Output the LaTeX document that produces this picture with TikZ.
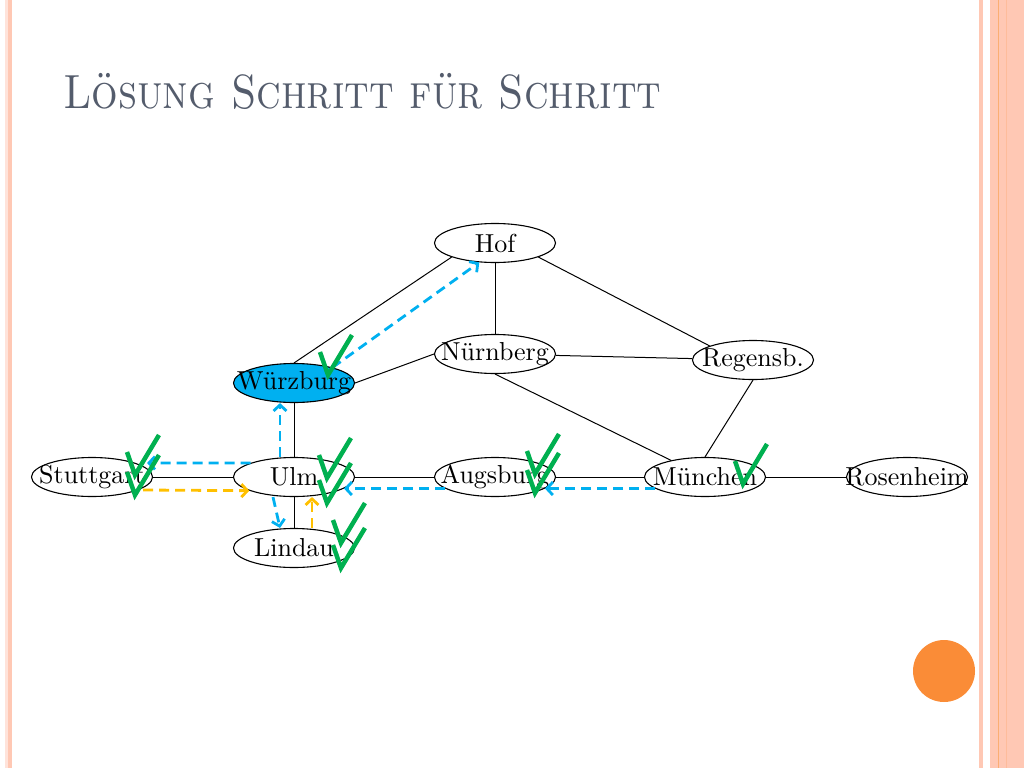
\documentclass[tikz,border=0pt]{standalone}
\usepackage{fontspec}
\usepackage{tikz}
\usetikzlibrary{shapes.geometric,arrows.meta}
\newfontfamily\zehn{lmroman10-regular.otf}
\definecolor{hellblau}{RGB}{0,176,240}
\definecolor{gold}{RGB}{255,192,0}
\definecolor{gruen}{RGB}{0,176,80}
\definecolor{lachs}{RGB}{255,200,180}
\definecolor{titel}{RGB}{84,92,108}
\definecolor{punkt}{RGB}{250,140,55}

\begin{document}
\begin{tikzpicture}[x=1pt,y=-1pt,
	town/.style={draw,ellipse,line width=1.1pt,minimum width=121pt,minimum height=39pt,inner xsep=-19pt,inner ysep=0pt,font=\zehn\fontsize{26}{30}\selectfont},
	road/.style={line width=1pt},
	visit/.style={-{Straight Barb[length=6pt,width=13pt]},hellblau,line width=2.8pt,dash pattern=on 10pt off 6pt},
	back/.style={visit,gold},
	okmark/.style={gruen,line width=4.5pt}]
	\useasboundingbox (0,0) rectangle (1024,768);
	\fill[lachs!50] (5,0) rectangle (12,768);
	\fill[lachs] (8,0) rectangle (12,768);
	\fill[lachs] (979,0) rectangle (983,768);
	\fill[lachs] (990,0) rectangle (1024,768);
	\draw[punkt!70,line width=1pt] (998.5,0) -- (998.5,768);
	\draw[lachs!80!punkt,line width=0.8pt] (1006,0) -- (1006,768);
	\fill[punkt] (944,671) circle (31);
	\node[anchor=base west,inner sep=0pt,xscale=0.87,text=titel,font=\fontsize{48}{56}\selectfont\scshape] (titel) at (63,108) {Lösung Schritt für Schritt};

	\node[town] (hof) at (495,243) {Hof};
	\node[town] (nue) at (495,354) {Nürnberg};
	\node[town] (reg) at (753,360) {Regensb.};
	\node[town,fill=hellblau] (wue) at (294,383) {Würzburg};
	\node[town] (stu) at (92,477) {Stuttgart};
	\node[town] (ulm) at (294,477) {Ulm};
	\node[town] (aug) at (495,477) {Augsburg};
	\node[town] (muc) at (705,477) {München};
	\node[town] (ros) at (907,477) {Rosenheim};
	\node[town] (lin) at (294,548) {Lindau};

	\draw[road] (hof.198) -- (wue.north);
	\draw[road] (hof) -- (nue);
	\draw[road] (hof.-18) -- (reg.162);
	\draw[road] (nue.west) -- (wue.east);
	\draw[road] (nue) -- (reg);
	\draw[road] (nue.south) -- (muc);
	\draw[road] (reg.south) -- (muc.north);
	\draw[road] (wue) -- (ulm);
	\draw[road] (stu) -- (ulm);
	\draw[road] (ulm) -- (aug);
	\draw[road] (aug) -- (muc);
	\draw[road] (muc) -- (ros);
	\draw[road] (ulm) -- (lin);

	\draw[visit] (wue.22) -- (hof.231);
	\draw[visit] ([xshift=-14pt]ulm.north) -- ([xshift=-14pt]wue.south);
	\draw[visit] (ulm.162) -- ([xshift=-6pt,yshift=14pt]stu.east);
	\draw[back] ([xshift=-10pt,yshift=-13pt]stu.east) -- (ulm.197);
	\draw[visit] ([xshift=-21pt]ulm.south) -- ([xshift=-14pt]lin.north);
	\draw[back] ([xshift=18pt]lin.north) -- ([xshift=18pt]ulm.south);
	\draw[visit] (muc.193) -- (aug.-13);
	\draw[visit] (aug.193) -- (ulm.-13);

	\foreach \x/\y in {328/375, 135/475, 135/495, 327/478, 327/503, 341/543, 341/568, 535/474, 535/493, 743/484}
		\draw[okmark] (\x-8,\y-23) -- (\x,\y) -- (\x+24,\y-40);
\end{tikzpicture}
\end{document}
